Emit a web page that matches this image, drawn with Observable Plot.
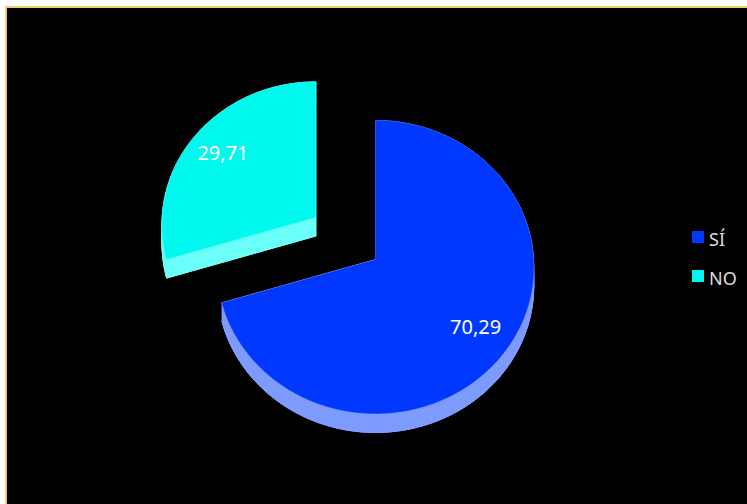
<!DOCTYPE html>
<html>
<head>
<meta charset="utf-8">
<script src="https://cdn.jsdelivr.net/npm/d3@7"></script>
<script src="https://cdn.jsdelivr.net/npm/@observablehq/plot@0.6"></script>
<style>
  html, body { margin: 0; padding: 0; width: 747px; height: 504px; overflow: hidden; background: #fff; }
  #frame { position: absolute; left: 5px; top: 6px; width: 800px; height: 600px; background: #000;
           border-left: 2px solid #efcb72; border-top: 2px solid #efcb72; }
  #chart { position: absolute; left: 0; top: 0; }
  .leg { position: absolute; left: 692px; display: flex; align-items: center; height: 24px;
         font-family: "Noto Sans", sans-serif; font-size: 18px; color: #dcdcdc; }
  .leg span.sw { width: 12px; height: 12px; display: inline-block; margin-right: 5px; position: relative; top: -2px; }
</style>
</head>
<body>
<div id="frame"></div>
<div id="chart"></div>
<div id="legend"></div>
<script>
// ---- data ----
const categories = ["SÍ", "NO"];
const values = [70.29, 29.71];
const valueLabels = ["70,29", "29,71"];

// ---- style ----
const faceColors = ["#0038ff", "#00f8ee"];
const sideColors = ["#7e9bff", "#6afff8"];
const explodeIndex = 1, explodeDist = 0.47;
const P = 0.0512;        // perspective factor
const DEPTH = 0.13;      // thickness in radius units (vertical)
const W = 747, H = 504;
const cxPx = 375, cyPx = 259, rxPx = 158, ryPx = 146.1;

const proj = (u, v) => [u / (1 + P * v), v / (1 + P * v)];

const total = d3.sum(values);
let acc = 0;
const slices = values.map((val, i) => {
  const a0 = acc / total * 2 * Math.PI; acc += val;
  const a1 = acc / total * 2 * Math.PI;
  const mid = (a0 + a1) / 2;
  const e = i === explodeIndex ? explodeDist : 0;
  const dx = e * Math.sin(mid), dy = e * Math.cos(mid) * 1.04; // screen-space explode shift
  const sc = 1 / (1 + 2 * P * Math.max(0, e * Math.cos(mid)));  // farther slice looks smaller
  const shift = ([x, y]) => ({x: x * sc + dx, y: y * sc + dy});
  const n = Math.max(8, Math.ceil((a1 - a0) / (Math.PI / 180)));
  const top = [shift(proj(0, 0))];
  for (let k = 0; k <= n; k++) {
    const t = a0 + (a1 - a0) * k / n;
    top.push(shift(proj(Math.sin(t), Math.cos(t))));
  }
  // side: bottom polygon + quads for every edge
  const side = [];
  top.forEach(p => side.push({x: p.x, y: p.y - DEPTH, id: "b"}));
  for (let k = 0; k < top.length; k++) {
    const a = top[k], b = top[(k + 1) % top.length];
    const id = "q" + k;
    side.push({x: a.x, y: a.y, id}, {x: b.x, y: b.y, id},
              {x: b.x, y: b.y - DEPTH, id}, {x: a.x, y: a.y - DEPTH, id});
  }
  const lab = shift(proj(0.77 * Math.sin(mid), 0.77 * Math.cos(mid)));
  return {i, top, side, label: {x: lab.x, y: lab.y, text: valueLabels[i]}};
});

const marks = [];
slices.forEach(s => {
  marks.push(Plot.line(s.side, {x: "x", y: "y", z: "id", fill: sideColors[s.i], stroke: sideColors[s.i], strokeWidth: 1, curve: "linear"}));
  marks.push(Plot.line(s.top, {x: "x", y: "y", fill: faceColors[s.i], stroke: faceColors[s.i], strokeWidth: 0.5, curve: "linear"}));
});
marks.push(Plot.text(slices.map(s => s.label), {x: "x", y: "y", text: "text", fill: "#ffffff",
  fontSize: 20, fontFamily: "Noto Sans, sans-serif"}));

const chart = Plot.plot({
  width: W, height: H, margin: 0,
  x: {domain: [-cxPx / rxPx, (W - cxPx) / rxPx], axis: null},
  y: {domain: [(cyPx - H) / ryPx, cyPx / ryPx], axis: null},
  style: {background: "transparent", overflow: "visible"},
  marks
});
document.getElementById("chart").appendChild(chart);

// legend
const legTops = [227, 266];
const legend = document.getElementById("legend");
categories.forEach((c, i) => {
  const d = document.createElement("div");
  d.className = "leg";
  d.style.top = legTops[i] + "px";
  d.innerHTML = `<span class="sw" style="background:${faceColors[i]}"></span><span>${c}</span>`;
  legend.appendChild(d);
});
</script>
</body>
</html>
